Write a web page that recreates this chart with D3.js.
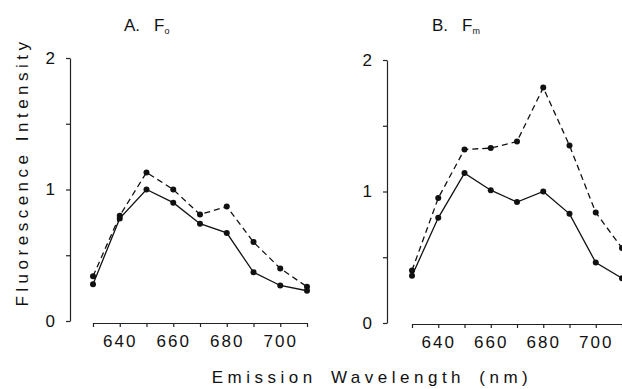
<!DOCTYPE html>
<html>
<head>
<meta charset="utf-8">
<script src="https://cdn.jsdelivr.net/npm/d3@7"></script>
<style>
  body { margin: 0; background: #fff; }
  svg { display: block; font-family: "Liberation Sans", Arial, sans-serif; }
  .tick text { font-size: 17px; letter-spacing: 2px; fill: #111; }
  .domain, .tick line { stroke: #222; stroke-width: 1.2; }
</style>
</head>
<body>
<div id="chart"></div>
<script>
// emission wavelengths (nm)
const wavelengths = [630, 640, 650, 660, 670, 680, 690, 700, 710];

// panel A, Fo
const foSolid = [0.28, 0.78, 1.00, 0.90, 0.74, 0.67, 0.37, 0.27, 0.23];
const foDashed = [0.34, 0.80, 1.13, 1.00, 0.81, 0.87, 0.60, 0.40, 0.26];

// panel B, Fm
const fmSolid = [0.36, 0.80, 1.14, 1.01, 0.92, 1.00, 0.83, 0.46, 0.34];
const fmDashed = [0.40, 0.95, 1.32, 1.33, 1.38, 1.79, 1.35, 0.84, 0.57];

const xTicks = [630, 640, 650, 660, 670, 680, 690, 700, 710];
const xTickLabels = ['', '640', '660', '680', '700'];
const yTicks = [0, 0.5, 1, 1.5, 2];

const width = 622, height = 389;

const svg = d3.select('#chart').append('svg')
    .attr('width', width)
    .attr('height', height);

const panels = [
    {title: 'A.', sub: 'o', titleX: 124, solid: foSolid, dashed: foDashed,
     yAxisX: 70, xAxisY: 323, xRange: [93, 307], yRange: [321, 58]},
    {title: 'B.', sub: 'm', titleX: 432, solid: fmSolid, dashed: fmDashed,
     yAxisX: 387, xAxisY: 324, xRange: [412, 622], yRange: [323, 60]}
];

panels.forEach(p => {
    const x = d3.scaleLinear().domain([630, 710]).range(p.xRange);
    const y = d3.scaleLinear().domain([0, 2]).range(p.yRange);
    const g = svg.append('g');

    // y axis
    g.append('g')
        .attr('transform', `translate(${p.yAxisX},0)`)
        .call(d3.axisLeft(y)
            .tickValues(yTicks)
            .tickSize(4)
            .tickSizeOuter(0)
            .tickPadding(9)
            .tickFormat(d => Number.isInteger(d) ? d : ''));

    // x axis
    g.append('g')
        .attr('transform', `translate(0,${p.xAxisY})`)
        .call(d3.axisBottom(x)
            .tickValues(xTicks)
            .tickSize(4)
            .tickSizeOuter(0)
            .tickPadding(8)
            .tickFormat(d => d % 20 === 0 && d > 630 && d < 710 ? d : ''));

    const line = d3.line()
        .x((d, i) => x(wavelengths[i]))
        .y(d => y(d));

    [[p.dashed, '6,4'], [p.solid, null]].forEach(([vals, dash]) => {
        g.append('path')
            .datum(vals)
            .attr('d', line)
            .attr('fill', 'none')
            .attr('stroke', '#111')
            .attr('stroke-width', 1.3)
            .attr('stroke-dasharray', dash);
        g.selectAll(null)
            .data(vals)
            .enter().append('circle')
            .attr('cx', (d, i) => x(wavelengths[i]))
            .attr('cy', d => y(d))
            .attr('r', 3)
            .attr('fill', '#111');
    });

    // panel title
    const t = g.append('text')
        .attr('x', p.titleX)
        .attr('y', 31)
        .attr('font-size', 17)
        .attr('fill', '#111');
    t.append('tspan').text(p.title);
    t.append('tspan').attr('dx', 14).text('F');
    t.append('tspan').attr('dy', 3).attr('font-size', 9).text(p.sub);
});

// axis titles
svg.append('text')
    .attr('transform', 'translate(28,172) rotate(-90)')
    .attr('text-anchor', 'middle')
    .attr('font-size', 17)
    .attr('letter-spacing', 4.5)
    .attr('fill', '#111')
    .text('Fluorescence Intensity');

svg.append('text')
    .attr('x', 372)
    .attr('y', 383)
    .attr('text-anchor', 'middle')
    .attr('font-size', 17)
    .attr('letter-spacing', 4.5)
    .attr('word-spacing', 5)
    .attr('fill', '#111')
    .text('Emission Wavelength (nm)');
</script>
</body>
</html>
